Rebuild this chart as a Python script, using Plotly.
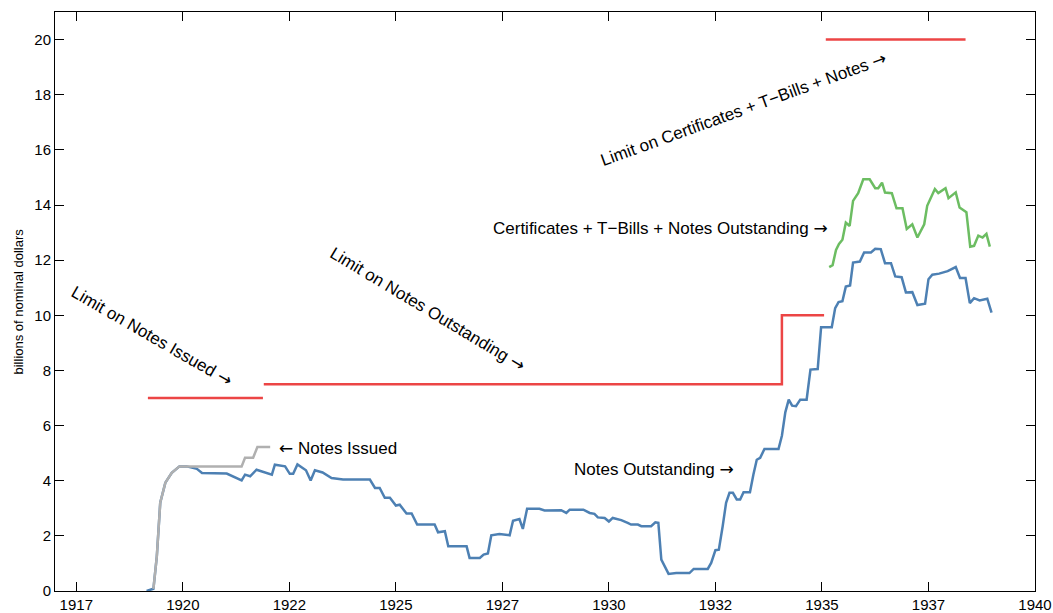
import plotly.graph_objects as go

# Notes outstanding (billions)
outstanding_x = [
    1919.15, 1919.31, 1919.39, 1919.47, 1919.59, 1919.74, 1919.92, 1920.09, 1920.33, 1920.45,
    1921.03, 1921.38, 1921.46, 1921.58, 1921.73, 1922.09, 1922.16, 1922.40, 1922.51, 1922.59,
    1922.69, 1922.89, 1923.00, 1923.10, 1923.28, 1923.49, 1923.76, 1924.39, 1924.51, 1924.62,
    1924.74, 1924.86, 1925.00, 1925.09, 1925.25, 1925.37, 1925.50, 1925.91, 1925.99, 1926.15,
    1926.23, 1926.66, 1926.73, 1926.97, 1927.06, 1927.16, 1927.24, 1927.43, 1927.67, 1927.75,
    1927.90, 1927.98, 1928.08, 1928.37, 1928.49, 1928.88, 1929.00, 1929.08, 1929.40, 1929.55,
    1929.66, 1929.74, 1929.90, 1930.00, 1930.09, 1930.29, 1930.44, 1930.52, 1930.68, 1930.76,
    1930.99, 1931.09, 1931.16, 1931.23, 1931.40, 1931.58, 1931.89, 1931.99, 1932.32, 1932.40,
    1932.50, 1932.58, 1932.67, 1932.75, 1932.83, 1932.91, 1933.00, 1933.08, 1933.16, 1933.31,
    1933.39, 1933.47, 1933.55, 1933.65, 1933.98, 1934.06, 1934.14, 1934.22, 1934.30, 1934.39,
    1934.49, 1934.64, 1934.73, 1934.90, 1934.98, 1935.23, 1935.31, 1935.39, 1935.48, 1935.56,
    1935.66, 1935.73, 1935.89, 1935.99, 1936.15, 1936.25, 1936.38, 1936.48, 1936.62, 1936.72,
    1936.87, 1936.97, 1937.12, 1937.24, 1937.42, 1937.50, 1937.59, 1937.75, 1937.95, 1938.14,
    1938.24, 1938.37, 1938.47, 1938.57, 1938.70, 1938.88, 1938.98,
]
outstanding_y = [
    0.00, 0.08, 1.26, 3.20, 3.93, 4.29, 4.52, 4.52, 4.43, 4.28,
    4.26, 4.01, 4.22, 4.16, 4.40, 4.22, 4.58, 4.52, 4.25, 4.25,
    4.59, 4.38, 4.01, 4.38, 4.30, 4.10, 4.04, 4.04, 3.74, 3.74,
    3.38, 3.38, 3.10, 3.13, 2.81, 2.81, 2.41, 2.41, 2.13, 2.17,
    1.62, 1.62, 1.20, 1.20, 1.32, 1.36, 2.02, 2.07, 2.02, 2.55,
    2.61, 2.25, 2.98, 2.98, 2.92, 2.93, 2.83, 2.95, 2.95, 2.83,
    2.80, 2.67, 2.65, 2.52, 2.65, 2.57, 2.47, 2.41, 2.41, 2.35,
    2.35, 2.49, 2.47, 1.14, 0.62, 0.65, 0.65, 0.80, 0.80, 1.02,
    1.48, 1.50, 2.35, 3.20, 3.56, 3.56, 3.32, 3.32, 3.58, 3.58,
    4.22, 4.76, 4.83, 5.15, 5.15, 5.63, 6.48, 6.94, 6.72, 6.70,
    6.94, 6.94, 8.03, 8.05, 9.57, 9.57, 10.26, 10.48, 10.51, 11.04,
    11.08, 11.91, 11.95, 12.28, 12.28, 12.41, 12.40, 11.89, 11.89, 11.41,
    11.38, 10.83, 10.84, 10.37, 10.42, 11.31, 11.47, 11.51, 11.60, 11.75,
    11.35, 11.35, 10.44, 10.62, 10.54, 10.60, 10.10,
]

# Notes issued
issued_x = [1919.31, 1919.39, 1919.47, 1919.59, 1919.74, 1919.92, 1921.38, 1921.46, 1921.65, 1921.75, 1922.05]
issued_y = [0.08, 1.26, 3.20, 3.93, 4.29, 4.52, 4.52, 4.83, 4.83, 5.22, 5.22]

# Certificates + T-Bills + Notes outstanding
total_x = [
    1935.17, 1935.25, 1935.33, 1935.40, 1935.48, 1935.56, 1935.65, 1935.73, 1935.85, 1935.97,
    1936.12, 1936.25, 1936.32, 1936.41, 1936.48, 1936.64, 1936.75, 1936.89, 1936.99, 1937.12,
    1937.24, 1937.40, 1937.47, 1937.65, 1937.73, 1937.90, 1937.97, 1938.14, 1938.23, 1938.39,
    1938.48, 1938.57, 1938.67, 1938.77, 1938.86, 1938.94,
]
total_y = [
    11.75, 11.82, 12.37, 12.59, 12.74, 13.36, 13.24, 14.15, 14.43, 14.93,
    14.93, 14.61, 14.61, 14.81, 14.45, 14.43, 13.88, 13.88, 13.13, 13.30,
    12.82, 13.30, 13.97, 14.58, 14.43, 14.61, 14.25, 14.46, 13.91, 13.74,
    12.49, 12.52, 12.89, 12.82, 12.95, 12.49,
]

# Statutory limits (None breaks the line between regimes)
limit_x = [1919.18, 1921.88, None, 1921.90, 1934.06, 1934.06, 1935.05, None, 1935.09, 1938.37]
limit_y = [7, 7, None, 7.5, 7.5, 10, 10, None, 20, 20]

tick_vals = [1917.5, 1920, 1922.5, 1925, 1927.5, 1930, 1932.5, 1935, 1937.5, 1940]
tick_text = ["1917", "1920", "1922", "1925", "1927", "1930", "1932", "1935", "1937", "1940"]

font = "Liberation Sans, Arial, Helvetica, sans-serif"
RARR = '<span style="font-family:DejaVu Sans">→</span>'
LARR = '<span style="font-family:DejaVu Sans">←</span>'

fig = go.Figure()
fig.add_trace(go.Scatter(x=limit_x, y=limit_y, mode="lines", line=dict(color="#ec4545", width=2.5)))
fig.add_trace(go.Scatter(x=outstanding_x, y=outstanding_y, mode="lines", line=dict(color="#4d80b3", width=2.5)))
fig.add_trace(go.Scatter(x=total_x, y=total_y, mode="lines", line=dict(color="#6cbd62", width=2.5)))
fig.add_trace(go.Scatter(x=issued_x, y=issued_y, mode="lines", line=dict(color="#b0b0b0", width=2.5)))

# text labels on the chart
labels = [
    dict(x=1919.28, y=9.26, text="Limit on Notes Issued " + RARR, textangle=30, xanchor="center"),
    dict(x=1925.75, y=10.24, text="Limit on Notes Outstanding " + RARR, textangle=31, xanchor="center"),
    dict(x=1933.15, y=17.50, text="Limit on Certificates + T−Bills + Notes " + RARR, textangle=-20, xanchor="center"),
    dict(x=1935.20, y=13.17, text="Certificates + T−Bills + Notes Outstanding " + RARR, textangle=0, xanchor="right"),
    dict(x=1932.99, y=4.44, text="Notes Outstanding " + RARR, textangle=0, xanchor="right"),
    dict(x=1922.21, y=5.20, text=LARR + " Notes Issued", textangle=0, xanchor="left"),
]
for a in labels:
    fig.add_annotation(
        x=a["x"], y=a["y"], text=a["text"], textangle=a["textangle"],
        xanchor=a["xanchor"], yanchor="middle", showarrow=False,
        font=dict(family=font, size=17, color="black"),
    )

# y-axis title placed by hand
fig.add_annotation(
    xref="paper", yref="paper", x=-37 / 980, y=0.5, text="billions of nominal dollars",
    textangle=-90, showarrow=False, xanchor="center", yanchor="middle",
    font=dict(family=font, size=13, color="black"),
)

fig.update_layout(
    width=1053,
    height=613,
    autosize=False,
    showlegend=False,
    plot_bgcolor="white",
    paper_bgcolor="white",
    margin=dict(l=55, r=18, t=12, b=22, autoexpand=False),
    font=dict(family=font, size=15, color="black"),
)
fig.update_xaxes(
    range=[1917.0, 1940.0],
    tickvals=tick_vals,
    ticktext=tick_text,
    ticks="inside",
    ticklen=9,
    tickcolor="black",
    showgrid=False,
    zeroline=False,
    showline=True,
    linecolor="black",
    linewidth=1,
    mirror="allticks",
    automargin=False,
)
fig.update_yaxes(
    range=[0, 21],
    tickvals=list(range(0, 21, 2)),
    ticks="inside",
    ticklen=9,
    tickcolor="black",
    showgrid=False,
    zeroline=False,
    showline=True,
    linecolor="black",
    linewidth=1,
    mirror="allticks",
    automargin=False,
)

# drop the default page margin so the figure sits at the window's corner
fig.write_html(
    "out.html",
    config={"displayModeBar": False},
    post_script="document.body.style.margin='0';document.body.style.overflow='hidden';",
)
